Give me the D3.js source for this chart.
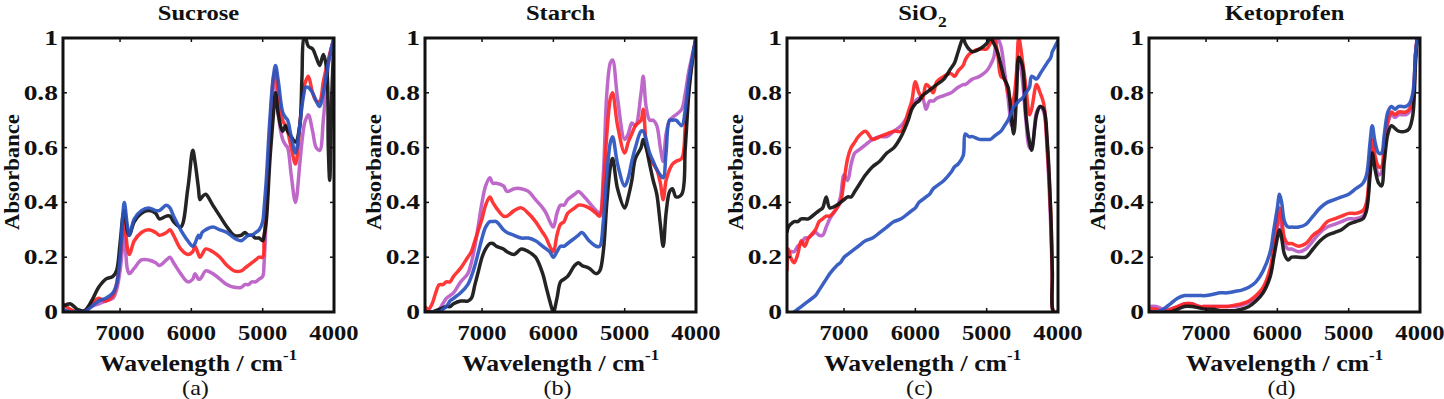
<!DOCTYPE html>
<html>
<head>
<meta charset="utf-8">
<script src="https://cdn.jsdelivr.net/npm/d3@7"></script>
<style>
  html, body { margin: 0; padding: 0; background: #fff; }
  svg { display: block; }
  text { font-family: "Liberation Serif", "Times New Roman", serif; fill: #111; }
</style>
</head>
<body>
<svg id="chart" width="1444" height="399"></svg>
<script>
// series colours, drawn in this order (blue last, on top)
const seriesNames = ['purple', 'red', 'black', 'blue'];
const seriesColors = {purple: '#b95cc4', red: '#ff2626', black: '#111111', blue: '#2a52be'};

// panel titles and captions
const titles = ['Sucrose', 'Starch', 'SiO2', 'Ketoprofen'];
const captions = ['(a)', '(b)', '(c)', '(d)'];
const xTicks = [7000, 6000, 5000, 4000];
const yTicks = [0, 0.2, 0.4, 0.6, 0.8, 1];

// (a) Sucrose
const sucroseWn = [7800,7700,7600,7500,7400,7300,7200,7100,7050,7000,6960,6940,6900,6870,6800,6700,6600,6500,6450,6350,6300,6250,6150,6050,5980,5950,5900,5880,5850,5800,5700,5600,5500,5400,5300,5250,5200,5150,5100,5050,5000,4980,4950,4900,4850,4820,4780,4720,4680,4650,4600,4540,4480,4450,4420,4400,4360,4300,4250,4200,4150,4100,4080,4060,4030,4000];
const sucroseBlack = [0.02,0.03,0.01,0.005,0.04,0.09,0.12,0.13,0.15,0.25,0.35,0.37,0.30,0.28,0.33,0.36,0.37,0.36,0.34,0.35,0.35,0.33,0.31,0.45,0.59,0.55,0.45,0.41,0.42,0.43,0.39,0.35,0.31,0.28,0.28,0.29,0.28,0.28,0.27,0.27,0.26,0.28,0.33,0.55,0.72,0.80,0.72,0.66,0.68,0.66,0.64,0.62,0.68,0.85,1.0,1.0,0.97,0.96,0.93,0.90,0.94,0.88,0.60,0.48,0.80,1.0];
const sucroseBlue = [0.01,0.0,0.0,0.0,0.02,0.04,0.05,0.07,0.10,0.20,0.36,0.40,0.32,0.28,0.34,0.37,0.38,0.37,0.37,0.39,0.38,0.35,0.30,0.26,0.24,0.25,0.28,0.27,0.29,0.30,0.31,0.30,0.29,0.27,0.26,0.27,0.28,0.28,0.29,0.30,0.33,0.38,0.48,0.70,0.86,0.90,0.84,0.73,0.71,0.70,0.64,0.58,0.68,0.75,0.80,0.82,0.82,0.80,0.77,0.75,0.80,0.88,0.91,0.93,0.97,1.0];
const sucroseRed = [0.03,0.01,0.0,0.0,0.03,0.05,0.04,0.06,0.10,0.20,0.30,0.35,0.24,0.21,0.26,0.29,0.30,0.29,0.28,0.29,0.30,0.28,0.23,0.21,0.22,0.24,0.21,0.20,0.21,0.23,0.22,0.20,0.17,0.15,0.15,0.16,0.17,0.18,0.19,0.20,0.20,0.26,0.40,0.65,0.85,0.88,0.80,0.70,0.68,0.66,0.60,0.54,0.68,0.76,0.82,0.84,0.86,0.80,0.77,0.77,0.84,0.90,0.92,0.94,0.97,1.0];
const sucrosePurple = [0.01,0.0,0.0,0.0,0.02,0.03,0.04,0.05,0.08,0.15,0.25,0.30,0.16,0.14,0.16,0.19,0.19,0.18,0.17,0.19,0.20,0.18,0.14,0.11,0.12,0.14,0.12,0.12,0.13,0.15,0.14,0.12,0.10,0.09,0.09,0.10,0.10,0.11,0.11,0.12,0.13,0.18,0.35,0.60,0.82,0.86,0.72,0.63,0.61,0.60,0.50,0.40,0.54,0.62,0.68,0.70,0.72,0.66,0.60,0.59,0.70,0.85,0.90,0.94,0.97,1.0];

// (b) Starch
const starchWn = [7800,7750,7700,7650,7600,7550,7500,7450,7400,7300,7200,7150,7100,7050,7000,6950,6890,6850,6800,6700,6650,6550,6450,6350,6250,6150,6100,6050,6000,5950,5900,5850,5800,5700,5650,5600,5500,5400,5350,5300,5250,5200,5170,5100,5000,4950,4900,4850,4770,4740,4700,4650,4600,4550,4500,4460,4420,4370,4330,4280,4200,4150,4100,4050,4000];
const starchBlack = [0.0,0.0,0.0,0.005,0.01,0.015,0.02,0.02,0.03,0.04,0.04,0.05,0.10,0.15,0.20,0.23,0.25,0.25,0.24,0.23,0.22,0.21,0.23,0.22,0.20,0.14,0.09,0.04,0.0,0.05,0.11,0.12,0.13,0.17,0.18,0.17,0.16,0.14,0.15,0.22,0.40,0.53,0.56,0.45,0.38,0.42,0.48,0.56,0.60,0.63,0.60,0.54,0.48,0.43,0.32,0.24,0.36,0.44,0.45,0.42,0.43,0.60,0.80,0.92,1.0];
const starchBlue = [0.0,-0.01,0.0,0.0,0.0,0.01,0.02,0.04,0.05,0.07,0.10,0.13,0.17,0.22,0.27,0.31,0.33,0.33,0.33,0.30,0.29,0.28,0.27,0.27,0.26,0.24,0.23,0.22,0.20,0.22,0.24,0.24,0.25,0.27,0.28,0.29,0.26,0.24,0.24,0.33,0.50,0.62,0.64,0.54,0.46,0.49,0.55,0.60,0.66,0.66,0.63,0.58,0.55,0.52,0.50,0.49,0.58,0.70,0.70,0.70,0.68,0.74,0.85,0.93,1.0];
const starchRed = [0.02,0.01,0.03,0.07,0.10,0.10,0.11,0.11,0.13,0.16,0.20,0.22,0.26,0.30,0.34,0.39,0.42,0.40,0.38,0.35,0.35,0.37,0.38,0.36,0.33,0.29,0.27,0.24,0.22,0.28,0.32,0.33,0.36,0.38,0.39,0.39,0.38,0.36,0.35,0.45,0.65,0.78,0.80,0.68,0.58,0.62,0.65,0.68,0.70,0.74,0.62,0.56,0.54,0.52,0.47,0.41,0.48,0.52,0.54,0.55,0.56,0.68,0.82,0.92,1.0];
const starchPurple = [0.0,0.0,0.0,0.0,0.01,0.03,0.05,0.06,0.07,0.11,0.14,0.18,0.24,0.32,0.40,0.46,0.49,0.47,0.47,0.46,0.44,0.45,0.45,0.44,0.41,0.38,0.36,0.33,0.31,0.36,0.39,0.39,0.41,0.43,0.44,0.43,0.40,0.37,0.36,0.50,0.80,0.91,0.92,0.78,0.63,0.65,0.69,0.68,0.80,0.86,0.75,0.70,0.70,0.68,0.60,0.55,0.65,0.70,0.71,0.72,0.74,0.80,0.88,0.94,1.0];

// (c) SiO2
const silicaWn = [7800,7780,7750,7700,7650,7600,7550,7500,7400,7350,7300,7250,7200,7100,7050,7000,6950,6900,6850,6800,6700,6600,6500,6400,6300,6200,6100,6050,6000,5950,5900,5850,5800,5750,5700,5600,5500,5450,5400,5330,5300,5250,5200,5100,5000,4950,4900,4850,4800,4750,4700,4650,4620,4580,4550,4500,4450,4400,4370,4300,4250,4200,4150,4100,4080,4060,4000];
const silicaBlack = [0.29,0.31,0.32,0.33,0.33,0.34,0.34,0.34,0.36,0.37,0.38,0.42,0.38,0.39,0.40,0.41,0.42,0.42,0.44,0.46,0.50,0.53,0.55,0.58,0.60,0.64,0.70,0.74,0.76,0.77,0.79,0.80,0.81,0.82,0.83,0.85,0.89,0.91,0.95,1.0,0.98,0.96,0.95,0.96,0.98,1.0,0.98,0.95,0.90,0.85,0.82,0.70,0.65,0.80,0.93,0.90,0.72,0.62,0.59,0.72,0.75,0.74,0.62,0.35,0.15,0.0,0.0];
const silicaRed = [0.15,0.23,0.20,0.18,0.21,0.26,0.24,0.27,0.30,0.33,0.34,0.35,0.35,0.38,0.40,0.48,0.56,0.60,0.62,0.64,0.66,0.63,0.64,0.65,0.66,0.66,0.73,0.77,0.84,0.80,0.78,0.83,0.82,0.80,0.84,0.86,0.87,0.86,0.88,0.90,0.92,0.94,0.95,0.96,0.96,0.98,1.0,0.95,0.86,0.85,0.80,0.76,0.78,0.88,1.0,0.92,0.82,0.72,0.74,0.83,0.80,0.76,0.60,0.35,0.15,0.0,0.0];
const silicaPurple = [0.20,0.21,0.22,0.22,0.24,0.25,0.27,0.27,0.29,0.28,0.28,0.31,0.34,0.38,0.42,0.50,0.48,0.54,0.58,0.59,0.61,0.63,0.64,0.64,0.66,0.68,0.72,0.75,0.77,0.78,0.78,0.74,0.77,0.77,0.78,0.79,0.80,0.81,0.82,0.83,0.83,0.84,0.85,0.86,0.88,0.90,0.93,1.0,0.97,0.88,0.78,0.68,0.72,0.85,0.93,0.85,0.70,0.60,0.60,0.73,0.75,0.73,0.58,0.30,0.12,0.0,0.0];
const silicaBlue = [-0.02,-0.01,-0.01,0.0,0.01,0.02,0.03,0.04,0.06,0.08,0.10,0.12,0.14,0.17,0.18,0.20,0.21,0.22,0.23,0.24,0.26,0.27,0.29,0.31,0.33,0.34,0.36,0.37,0.38,0.40,0.41,0.42,0.43,0.45,0.46,0.48,0.51,0.53,0.54,0.57,0.65,0.64,0.64,0.63,0.63,0.63,0.64,0.65,0.66,0.68,0.70,0.73,0.75,0.76,0.77,0.78,0.80,0.82,0.86,0.85,0.87,0.89,0.91,0.93,0.95,0.96,0.99];

// (d) Ketoprofen
const ketoWn = [7800,7700,7600,7500,7400,7300,7200,7100,7000,6900,6800,6700,6600,6500,6400,6300,6200,6100,6050,6000,5970,5940,5900,5850,5800,5700,5600,5500,5400,5300,5200,5100,5000,4900,4800,4750,4700,4670,4630,4580,4540,4500,4450,4400,4350,4300,4200,4150,4100,4060,4030,4000];
const ketoBlue = [0.0,0.0,0.01,0.03,0.05,0.06,0.06,0.06,0.06,0.065,0.07,0.07,0.075,0.08,0.09,0.11,0.15,0.22,0.30,0.38,0.43,0.40,0.33,0.31,0.31,0.31,0.32,0.35,0.38,0.40,0.41,0.42,0.43,0.45,0.47,0.50,0.62,0.68,0.62,0.58,0.58,0.65,0.73,0.75,0.74,0.75,0.75,0.76,0.80,0.95,1.0,0.98];
const ketoRed = [0.01,0.01,0.0,0.01,0.02,0.03,0.03,0.02,0.02,0.02,0.02,0.02,0.025,0.03,0.04,0.06,0.09,0.16,0.24,0.33,0.38,0.34,0.27,0.25,0.25,0.24,0.25,0.28,0.30,0.33,0.34,0.35,0.36,0.36,0.37,0.40,0.55,0.63,0.57,0.53,0.53,0.62,0.70,0.73,0.72,0.73,0.73,0.74,0.78,0.95,1.0,0.98];
const ketoPurple = [0.02,0.02,0.01,0.01,0.02,0.03,0.03,0.02,0.02,0.02,0.02,0.02,0.02,0.025,0.035,0.05,0.08,0.14,0.22,0.31,0.36,0.31,0.25,0.23,0.23,0.22,0.23,0.26,0.29,0.31,0.32,0.33,0.34,0.34,0.35,0.38,0.53,0.61,0.55,0.50,0.51,0.60,0.69,0.72,0.71,0.72,0.72,0.73,0.77,0.95,1.0,0.98];
const ketoBlack = [0.0,0.0,0.0,0.0,0.01,0.02,0.02,0.015,0.01,0.01,0.005,0.005,0.005,0.01,0.02,0.04,0.07,0.13,0.20,0.27,0.30,0.27,0.21,0.19,0.20,0.20,0.20,0.23,0.26,0.28,0.29,0.30,0.32,0.33,0.34,0.37,0.50,0.58,0.52,0.47,0.46,0.55,0.65,0.68,0.67,0.66,0.66,0.67,0.72,0.92,1.0,0.98];

const panels = [
  {wn: sucroseWn, purple: sucrosePurple, red: sucroseRed, black: sucroseBlack, blue: sucroseBlue},
  {wn: starchWn, purple: starchPurple, red: starchRed, black: starchBlack, blue: starchBlue},
  {wn: silicaWn, purple: silicaPurple, red: silicaRed, black: silicaBlack, blue: silicaBlue},
  {wn: ketoWn, purple: ketoPurple, red: ketoRed, black: ketoBlack, blue: ketoBlue}
];

const svg = d3.select('#chart');
const plotW = 271, plotH = 274, plotTop = 38, stepX = 362, left0 = 63;

const x = d3.scaleLinear().domain([7800, 4000]).range([0, plotW]);
const y = d3.scaleLinear().domain([0, 1]).range([plotH, 0]);

// text is a bit wider than plain Times in the original, so stretch it horizontally
function label(g, tx, ty, txt, size, weight, anchor, sx) {
  return g.append('text')
    .attr('transform', 'translate(' + tx + ',' + ty + ') scale(' + (sx || 1.12) + ',1)')
    .attr('text-anchor', anchor || 'middle')
    .style('font-size', size + 'px')
    .style('font-weight', weight || 'bold')
    .text(txt);
}

panels.forEach(function (p, i) {
  const g = svg.append('g').attr('transform', 'translate(' + (left0 + i * stepX) + ',' + plotTop + ')');

  g.append('clipPath').attr('id', 'clip' + i)
    .append('rect').attr('width', plotW).attr('height', plotH);

  const line = d3.line()
    .x(function (d) { return x(d[0]); })
    .y(function (d) { return y(d[1]); })
    .curve(d3.curveCatmullRom.alpha(0.5));

  const lines = g.append('g').attr('clip-path', 'url(#clip' + i + ')');
  seriesNames.forEach(function (s) {
    lines.append('path')
      .datum(p.wn.map(function (w, k) { return [w, p[s][k]]; }))
      .attr('d', line)
      .attr('fill', 'none')
      .attr('stroke', seriesColors[s])
      .attr('stroke-width', 3.5)
      .attr('stroke-linejoin', 'round')
      .attr('opacity', 0.92);
  });

  // inward ticks on all four sides
  const tk = g.append('g').attr('stroke', '#111').attr('stroke-width', 1.5);
  xTicks.forEach(function (t) {
    tk.append('line').attr('x1', x(t)).attr('x2', x(t)).attr('y1', plotH).attr('y2', plotH - 4);
    tk.append('line').attr('x1', x(t)).attr('x2', x(t)).attr('y1', 0).attr('y2', 4);
  });
  yTicks.forEach(function (t) {
    tk.append('line').attr('x1', 0).attr('x2', 4).attr('y1', y(t)).attr('y2', y(t));
    tk.append('line').attr('x1', plotW).attr('x2', plotW - 4).attr('y1', y(t)).attr('y2', y(t));
  });

  g.append('rect')
    .attr('width', plotW).attr('height', plotH)
    .attr('fill', 'none').attr('stroke', '#111').attr('stroke-width', 3);

  // tick labels
  xTicks.forEach(function (t) {
    label(g, x(t), plotH + 28, t, 22);
  });
  yTicks.forEach(function (t) {
    label(g, -5, y(t) + 7, t === 0 || t === 1 ? String(t) : t.toFixed(1), 22, 'bold', 'end', 1.25);
  });

  // title
  const title = label(g, plotW / 2, 20 - plotTop, '', 21, 'bold', 'middle', 1.17);
  if (titles[i] === 'SiO2') {
    title.append('tspan').text('SiO');
    title.append('tspan').attr('dy', 7).style('font-size', '15px').text('2');
  } else {
    title.text(titles[i]);
  }

  // x axis label with superscript
  const xl = label(g, plotW / 2, 371 - plotTop, '', 23);
  xl.append('tspan').text('Wavelength / cm');
  xl.append('tspan').attr('dy', -11).style('font-size', '15px').text('-1');

  // y axis label
  g.append('text')
    .attr('transform', 'translate(-44,' + (172 - plotTop) + ') rotate(-90) scale(1.08,1)')
    .attr('text-anchor', 'middle')
    .style('font-size', '21px')
    .style('font-weight', 'bold')
    .text('Absorbance');

  // caption
  label(g, plotW / 2 - 3, 395 - plotTop, captions[i], 21, 'normal', 'middle', 1.15);
});
</script>
</body>
</html>
